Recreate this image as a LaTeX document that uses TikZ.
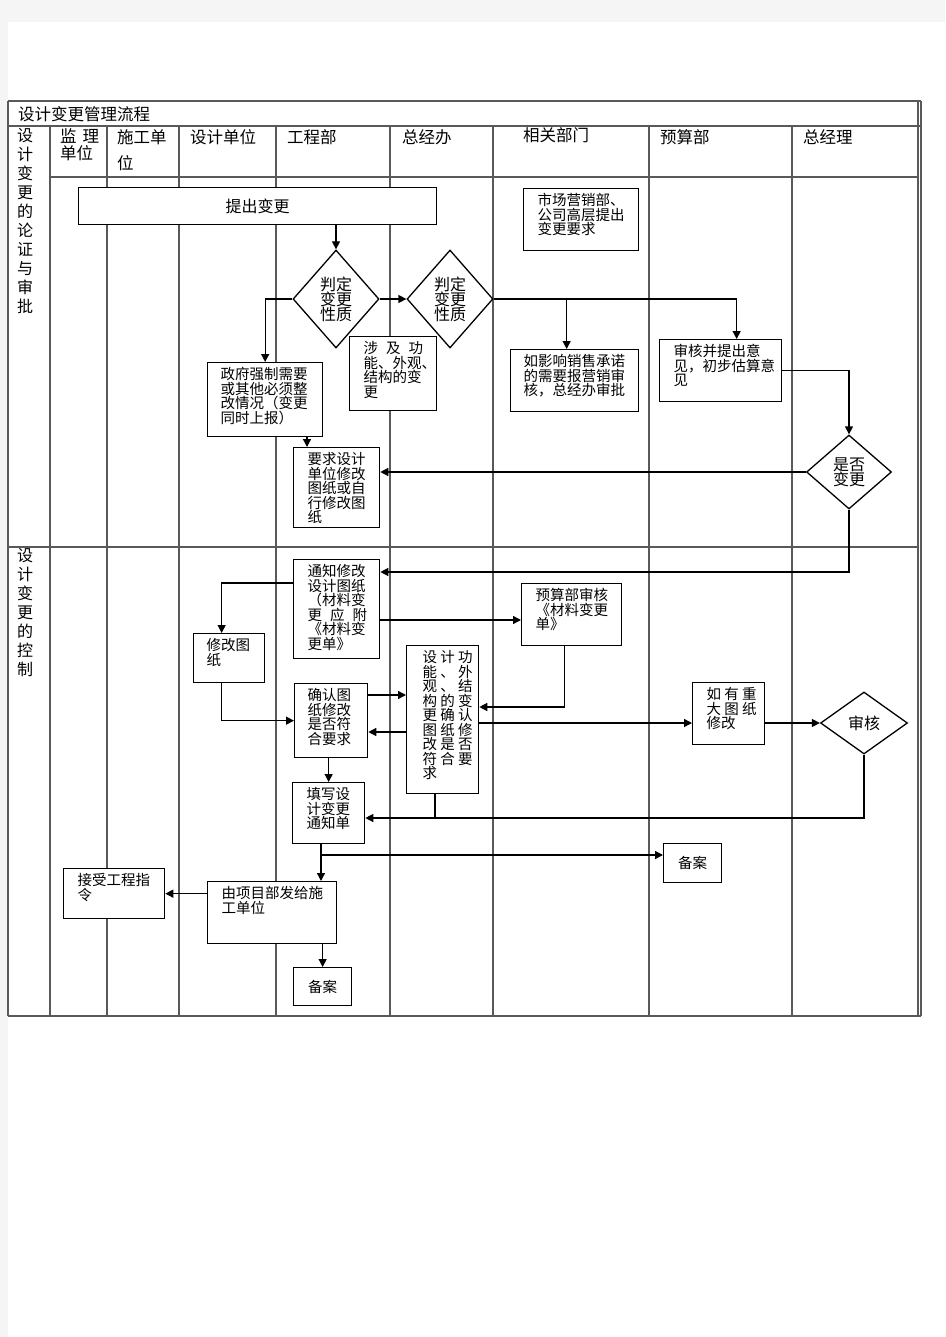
\documentclass[tikz,border=0pt]{standalone}
\usepackage{fontspec}
\setmainfont{Noto Sans CJK SC}
\usetikzlibrary{shapes.geometric,arrows.meta}
\newcommand{\bx}[4][13]{\parbox[c][#3pt][t]{#2pt}{\fontsize{14.5}{14.5}\selectfont\raggedright\leftskip=#1pt\relax\vspace*{5pt}#4}}
\begin{document}
\begin{tikzpicture}[x=1pt,y=-1pt]

\tikzstyle{tl} = [draw=black!65, line width=1.2pt]
\tikzstyle{box} = [draw, fill=white, line width=1.3pt, inner sep=0pt, anchor=north west]
\tikzstyle{cbox} = [box, font=\fontsize{14.5}{14.5}\selectfont]
\tikzstyle{dia} = [draw, fill=white, diamond, line width=1.3pt, inner sep=0pt, align=center, font=\fontsize{16}{15}\selectfont]
\tikzstyle{hd} = [anchor=west, inner sep=0pt, font=\fontsize{16.5}{17}\selectfont]
\tikzstyle{lbl} = [anchor=north, inner sep=0pt, align=center, font=\fontsize{16}{19}\selectfont]
\tikzstyle{ar} = [line width=1.3pt, -{Triangle[length=8pt,width=8pt]}]
\tikzstyle{ln} = [line width=1.3pt]

\useasboundingbox (0,0) rectangle (945,1337);
\fill[black!4] (0,0) rectangle (945,1337);
\fill[white] (8,22) rectangle (945,1337);

% table
\draw[tl] (8,101) -- (921,101);
\draw[tl] (8,126) -- (921,126);
\draw[tl] (50,177) -- (918,177);
\draw[tl] (8,547) -- (918,547);
\draw[tl] (8,1016) -- (921,1016);
\draw[tl] (8,101) -- (8,1016);
\foreach \x in {50,107,179,276,390,493,649,792}
  \draw[tl] (\x,126) -- (\x,1016);
\draw[tl] (918,101) -- (918,1016);
\draw[tl] (921,101) -- (921,1016);

\node[hd] (title) at (18,114) {设计变更管理流程};
\node[hd, anchor=north west, align=left] (jl) at (60,128) {监\hspace{6pt}理\\单位};
\node[hd, anchor=north west, align=left, font=\fontsize{16.5}{26}\selectfont] (sg) at (117,129) {施工单\\位};
\node[hd] (sjdw) at (190,137) {设计单位};
\node[hd] (gcb) at (287,137) {工程部};
\node[hd] (zjb) at (402,137) {总经办};
\node[hd] (xgbm) at (523,135) {相关部门};
\node[hd] (ysb) at (660,137) {预算部};
\node[hd] (zjl) at (803,137) {总经理};

\node[lbl] (sec1) at (25,128) {设\\计\\变\\更\\的\\论\\证\\与\\审\\批};
\node[lbl] (sec2) at (25,548) {设\\计\\变\\更\\的\\控\\制};

% section 1
\node[box, minimum width=358pt, minimum height=37pt, font=\fontsize{16}{16}\selectfont] (tichu) at (78,187) {提出变更};
\node[dia, minimum width=86pt, minimum height=98pt] (pd1) at (336,299) {判定\\变更\\性质};
\node[dia, minimum width=86pt, minimum height=98pt] (pd2) at (450,299) {判定\\变更\\性质};
\node[box] (zf) at (207,362) {\bx{115}{74}{政府强制需要\\或其他必须整\\改情况（变更\\同时上报）}};
\node[box] (sj) at (349,336) {\bx[14]{87}{74}{涉\hspace{8pt}及\hspace{8pt}功\\能、外观、\\结构的变\\更}};
\node[box] (yq) at (293,447) {\bx[14]{86}{80}{要求设计\\单位修改\\图纸或自\\行修改图\\纸}};
\node[box] (sc) at (523,188) {\bx[14]{115}{62}{市场营销部、\\公司高层提出\\变更要求}};
\node[box] (ry) at (510,349) {\bx{128}{62}{如影响销售承诺\\的需要报营销审\\核，总经办审批}};
\node[box] (sh) at (659,339) {\bx[14]{122}{62}{审核并提出意\\见，初步估算意\\见}};
\node[dia, minimum width=85pt, minimum height=74pt] (sf) at (849,472) {是否\\变更};

% section 2
\node[box] (tz) at (293,559) {\bx[14]{86}{99}{通知修改\\设计图纸\\（材料变\\更\hspace{8pt}应\hspace{8pt}附\\《材料变\\更单》}};
\node[box] (xg) at (193,633) {\bx{71}{49}{修改图\\纸}};
\node[box] (ys) at (521,583) {\bx[14]{100}{62}{预算部审核\\《材料变更\\单》}};
\node[box] (qr) at (294,683) {\bx{73}{74}{确认图\\纸修改\\是否符\\合要求}};
\node[box] (sjgn) at (406,645) {\bx[16]{72}{148}{设 计 功\\能 、 外\\观 、 结\\构 的 变\\更 确 认\\图 纸 修\\改 是 否\\符 合 要\\求}};
\node[box] (ry2) at (692,682) {\bx[14]{72}{62}{如 有 重\\大 图 纸\\修改}};
\node[dia, minimum width=87pt, minimum height=62pt] (shd) at (864,723) {审核};
\node[box] (tx) at (292,782) {\bx[14]{72}{61}{填写设\\计变更\\通知单}};
\node[cbox, minimum width=58pt, minimum height=39pt] (ba1) at (663,843) {备案};
\node[box] (xm) at (207,881) {\bx[14]{129}{62}{由项目部发给施\\工单位}};
\node[box] (js) at (63,868) {\bx[14]{101}{50}{接受工程指\\令}};
\node[cbox, minimum width=58pt, minimum height=38pt] (ba2) at (293,967) {备案};

\coordinate (j1) at (435,818);
\coordinate (j2) at (321,855);

\draw[ar] (tichu.south -| pd1.north) -- (pd1.north);
\draw[ar] (pd1.east) -- (pd2.west);
\draw[ar] (pd1.west) -| (zf.north);
\draw[ar] ([xshift=14pt]yq.north west |- zf.south) -- ([xshift=14pt]yq.north west);
\draw[ar] (pd2.east) -| ([xshift=16pt]sh.north);
\draw[ar] ([xshift=-8pt]ry.north |- pd2.east) -- ([xshift=-8pt]ry.north);
\draw[ar] (sh.east) -| (sf.north);
\draw[ar] (sf.west) -- (sf.west -| yq.east);
\draw[ar] (sf.south) |- ([yshift=-13pt]tz.north east);
\draw[ar] ([yshift=-24pt]tz.north west) -| ([xshift=-7.5pt]xg.north);
\draw[ar] ([xshift=-7.5pt]xg.south) |- (qr.west);
\draw[ar] ([yshift=-61pt]tz.north east) -- ([yshift=-61pt]tz.north east -| ys.west);
\draw[ar] ([yshift=-12pt]qr.north east) -- ([yshift=-12pt]qr.north east -| sjgn.west);
\draw[ar] ([yshift=-87pt]sjgn.north west) -- ([yshift=-87pt]sjgn.north west -| qr.east);
\draw[ar] ([xshift=-7pt]ys.south) |- ([yshift=-62pt]sjgn.north east);
\draw[ar] (sjgn.east |- shd.west) -- (ry2.west |- shd.west);
\draw[ar] (ry2.east |- shd.west) -- (shd.west);
\draw[ln] (sjgn.south -| j1) -- (j1);
\draw[ar] (shd.south) |- (j1) -- (j1 -| tx.east);
\draw[ar] (qr.south -| tx.north) -- (tx.north);
\draw[ar] (tx.south -| j2) -- (j2 |- xm.north);
\draw[ar] (j2) -- (j2 -| ba1.west);
\draw[ar] (xm.west |- js.east) -- (js.east);
\draw[ar] (xm.south -| ba2.north) -- (ba2.north);
\end{tikzpicture}
\end{document}
